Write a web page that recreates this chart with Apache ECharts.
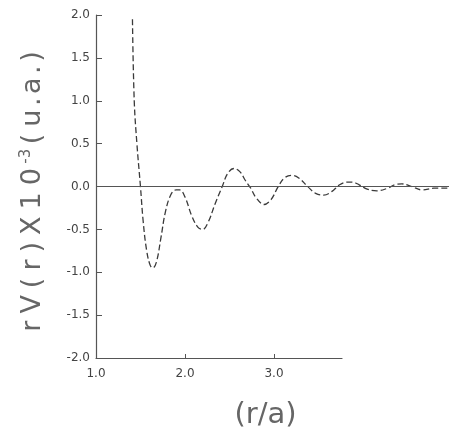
<!DOCTYPE html>
<html><head><meta charset="utf-8">
<script src="https://cdn.jsdelivr.net/npm/echarts@6/dist/echarts.min.js"></script>
<style>html,body{margin:0;padding:0;background:#fff}#c{width:449px;height:436px}</style>
</head><body><div id="c"></div>
<script>
// r/a values
const rValues = [1.41,1.43,1.46,1.50,1.53,1.57,1.61,1.64,1.68,1.73,1.78,1.84,1.90,1.94,2.00,2.08,2.15,2.20,2.26,2.34,2.42,2.48,2.55,2.62,2.68,2.74,2.80,2.89,2.97,3.05,3.12,3.20,3.28,3.38,3.47,3.56,3.65,3.74,3.82,3.88,3.96,4.05,4.16,4.28,4.36,4.44,4.55,4.67,4.80,4.97];
// rV(r) x 10^-3 (u.a.)
const vValues = [1.95,1.0,0.5,0.0,-0.4,-0.75,-0.92,-0.95,-0.88,-0.6,-0.3,-0.1,-0.04,-0.04,-0.12,-0.35,-0.48,-0.5,-0.42,-0.2,0.0,0.15,0.21,0.17,0.07,-0.02,-0.13,-0.21,-0.15,0.0,0.1,0.13,0.1,0.0,-0.08,-0.1,-0.06,0.02,0.05,0.05,0.02,-0.03,-0.05,-0.02,0.02,0.03,0.0,-0.04,-0.02,-0.02];
const xTickLabels = [1, 2, 3];
const xTickMarks = [2, 3];
const yName = 'rV(r)X10';
const ySup = '-3';
const yUnit = '(u.a.)';
const xName = '(r/a)';

const chars = s => s.split('').map(ch => (ch === '.' ? '{d|' : '{c|') + ch + '}').join('');
const yNameRich = chars(yName) + '{s|' + ySup + '}' + chars(yUnit) + '{e| }';

const FONT = 'DejaVu Sans';
const NAME_COLOR = '#666';
const chart = echarts.init(document.getElementById('c'), null, {renderer: 'canvas'});
chart.setOption({
  animation: false,
  backgroundColor: '#fff',
  grid: [
    {left: 96, right: 0, top: 15, bottom: 78},
    {left: 96, width: 246, top: 15, bottom: 78}
  ],
  xAxis: [
    {gridIndex: 0, type: 'value', min: 1, max: 4.97,
     axisLine: {show: false}, axisTick: {show: false}, axisLabel: {show: false}, splitLine: {show: false},
     name: xName, nameLocation: 'middle', nameGap: 43,
     nameTextStyle: {fontFamily: FONT, fontWeight: 'normal', fontSize: 29, color: NAME_COLOR, padding: [0, 14, 0, 0]}},
    {gridIndex: 1, type: 'value', min: 1, max: 3.764,
     axisLine: {show: true, onZero: false, lineStyle: {color: '#555', width: 1.2}},
     axisTick: {show: true, inside: true, length: 4, customValues: xTickMarks, lineStyle: {color: '#555'}},
     axisLabel: {customValues: xTickLabels, formatter: v => v.toFixed(1), margin: 10,
                 fontFamily: FONT, fontSize: 12, color: '#444'},
     splitLine: {show: false}}
  ],
  yAxis: [
    {gridIndex: 0, type: 'value', min: -2, max: 2, interval: 0.5,
     axisLine: {show: true, lineStyle: {color: '#555', width: 1.2}},
     axisTick: {show: true, inside: true, length: 6, lineStyle: {color: '#555'}},
     axisLabel: {formatter: v => v.toFixed(1), margin: 6, fontFamily: FONT, fontSize: 12, color: '#444'},
     splitLine: {show: false},
     name: yNameRich, nameLocation: 'middle', nameRotate: 90, nameGap: 50,
     nameTextStyle: {
       rich: {
         c: {fontFamily: FONT, fontWeight: 'normal', fontSize: 27, color: NAME_COLOR, padding: [0, 3.5]},
         d: {fontFamily: FONT, fontWeight: 'normal', fontSize: 27, color: NAME_COLOR, padding: [0, 0]},
         s: {fontFamily: FONT, fontWeight: 'normal', fontSize: 15, color: NAME_COLOR, verticalAlign: 'top', padding: [0, 1]},
         e: {fontSize: 10, width: 10}
       }
     }},
    {gridIndex: 1, type: 'value', min: -2, max: 2, show: false}
  ],
  series: [{
    type: 'line', xAxisIndex: 0, yAxisIndex: 0,
    data: rValues.map((r, i) => [r, vValues[i]]),
    smooth: 0.4, showSymbol: false,
    lineStyle: {color: '#3a3a3a', width: 1.3, type: [6, 3]},
    markLine: {silent: true, symbol: 'none', label: {show: false},
      lineStyle: {color: '#555', width: 1.2, type: 'solid'},
      data: [{yAxis: 0}]}
  }]
});
</script></body></html>
